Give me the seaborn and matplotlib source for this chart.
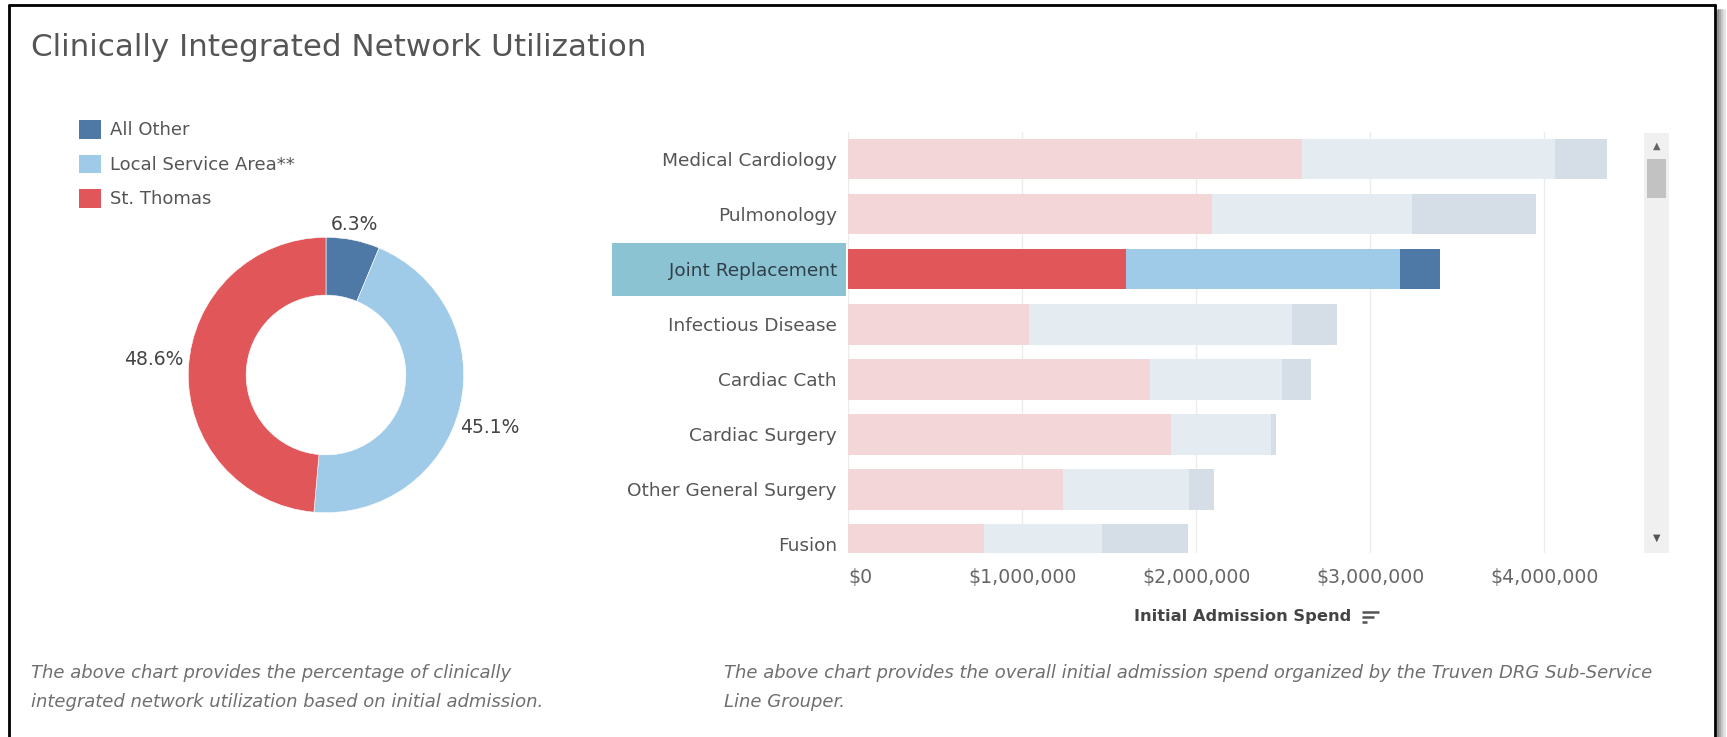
import matplotlib
matplotlib.use("Agg")
import matplotlib.pyplot as plt
import seaborn as sns
import pandas as pd
from matplotlib.patches import Rectangle, Patch
from matplotlib.lines import Line2D
from matplotlib.transforms import blended_transform_factory

# ---------------- data ----------------
categories = ["Medical Cardiology", "Pulmonology", "Joint Replacement",
              "Infectious Disease", "Cardiac Cath", "Cardiac Surgery",
              "Other General Surgery", "Fusion"]
st_thomas = [2610000, 2090000, 1595000, 1040000, 1735000, 1855000, 1235000, 780000]
local_service = [1450000, 1150000, 1575000, 1510000, 755000, 575000, 725000, 680000]
all_other = [300000, 710000, 230000, 260000, 170000, 30000, 140000, 490000]
highlight = "Joint Replacement"

donut_labels = ["All Other", "Local Service Area**", "St. Thomas"]
donut_values = [6.3, 45.1, 48.6]

x_ticks = [0, 1000000, 2000000, 3000000, 4000000]
x_tick_labels = ["$0", "$1,000,000", "$2,000,000", "$3,000,000", "$4,000,000"]

full_colors = {"All Other": "#4e79a7", "Local Service Area**": "#a0cbe8", "St. Thomas": "#e15759"}
faded_colors = {"All Other": "#d5dde6", "Local Service Area**": "#e4ebf1", "St. Thomas": "#f2d6d8"}

W, H = 1727, 737
def fx(p):
    return p / W
def fy(p):
    return 1 - p / H

sns.set_theme(style="white")
plt.rcParams["font.family"] = ["DejaVu Sans"]

fig = plt.figure(figsize=(W / 100, H / 100), dpi=100)
fig.patch.set_facecolor("white")

# ---------------- title ----------------
fig.text(fx(31), fy(48), "Clinically Integrated Network Utilization", fontsize=22.3,
         color="#555555", ha="left", va="center")

# ---------------- donut ----------------
cx, cy, R = 326, 375, 137.7
half = 1.25 * R
ax_pie = fig.add_axes([fx(cx - half), fy(cy + half), 2 * half / W, 2 * half / H])
wedges, texts, autotexts = ax_pie.pie(
    donut_values, colors=[full_colors[l] for l in donut_labels], startangle=90,
    counterclock=False, wedgeprops=dict(width=0.42, edgecolor="white", linewidth=0.4),
    autopct=lambda p: f"{p:.1f}%", pctdistance=1.2,
    textprops=dict(fontsize=13.5, color="#444444"))
ax_pie.set_aspect("equal")
ax_pie.set_xlim(-1.25, 1.25)
ax_pie.set_ylim(-1.25, 1.25)
# Tableau-style outside label placement (layout only)
label_pos = [(0.21, 1.09), (1.19, -0.38), (-1.25, 0.11)]
for t, p in zip(autotexts, label_pos):
    t.set_position(p)
    t.set_clip_on(False)

handles = [Patch(facecolor=full_colors[l], edgecolor="none") for l in donut_labels]
fig.legend(handles, donut_labels, loc="upper left", bbox_to_anchor=(fx(79), fy(120)),
           frameon=False, fontsize=13, handlelength=1.2, handleheight=1.2,
           handletextpad=0.5, labelspacing=0.84, borderpad=0, borderaxespad=0,
           labelcolor="#555555")

# ---------------- bars ----------------
ax = fig.add_axes([fx(848), fy(553), (1635 - 848) / W, (553 - 132) / H])
df = pd.DataFrame({"category": categories, "st": st_thomas,
                   "lsa": local_service, "other": all_other})
df["cum_lsa"] = df["st"] + df["lsa"]
df["total"] = df["cum_lsa"] + df["other"]

for col, series in [("total", "All Other"), ("cum_lsa", "Local Service Area**"), ("st", "St. Thomas")]:
    pal = {c: (full_colors[series] if c == highlight else faded_colors[series]) for c in categories}
    sns.barplot(data=df, x=col, y="category", hue="category", palette=pal, dodge=False,
                legend=False, width=0.74, orient="h", saturation=1, ax=ax,
                linewidth=0, edgecolor="none", order=categories)

ax.set_xlim(0, 4520000)
ax.set_ylim(7.155, -0.49)
ax.set_xticks(x_ticks)
ax.set_xticklabels(x_tick_labels)
ax.grid(axis="x", color="#ececec", linewidth=1)
ax.set_axisbelow(True)
for s in ax.spines.values():
    s.set_visible(False)
ax.set_xlabel("")
ax.set_ylabel("")
ax.tick_params(axis="y", length=0, pad=8, labelsize=13.3, labelcolor="#555555")
ax.tick_params(axis="x", length=0, pad=11, labelsize=13.6, labelcolor="#666666")
ax.get_xticklabels()[0].set_horizontalalignment("left")

# highlighted row label background
tr = blended_transform_factory(ax.transAxes, ax.transData)
hi = categories.index(highlight)
ax.add_patch(Rectangle((-0.2999, hi - 0.48), 0.2974, 0.96, transform=tr,
                       facecolor="#8cc3d3", edgecolor="none", clip_on=False, zorder=0))
for lab in ax.get_yticklabels():
    if lab.get_text() == highlight:
        lab.set_color("#2f3f48")

# axis title + sort icon
fig.text(fx(1243), fy(617), "Initial Admission Spend", fontsize=11.7, fontweight="bold",
         color="#444444", ha="center", va="center")
for i, (x0, x1) in enumerate([(1362, 1379), (1362, 1374), (1362, 1367)]):
    yy = 612 + i * 5
    fig.add_artist(Line2D([fx(x0), fx(x1)], [fy(yy), fy(yy)], color="#555555", lw=1.8,
                          solid_capstyle="butt"))

# scrollbar
sb = fig.add_axes([fx(1644), fy(553), (1669 - 1644) / W, (553 - 133) / H])
sb.set_xlim(0, 1)
sb.set_ylim(553, 133)
sb.set_facecolor("#f0f0f0")
for s in sb.spines.values():
    s.set_visible(False)
sb.set_xticks([])
sb.set_yticks([])
sb.add_patch(Rectangle((0.12, 159), 0.76, 39, facecolor="#c2c2c2", edgecolor="none"))
sb.text(0.5, 146, "▲", ha="center", va="center", fontsize=7, color="#666666")
sb.text(0.5, 538, "▼", ha="center", va="center", fontsize=7, color="#555555")

# ---------------- footnotes ----------------
fn = dict(fontsize=13.0, style="italic", color="#6f6f6f", ha="left", va="center")
fig.text(fx(31), fy(673), "The above chart provides the percentage of clinically", **fn)
fig.text(fx(31), fy(702), "integrated network utilization based on initial admission.", **fn)
fig.text(fx(724), fy(673),
         "The above chart provides the overall initial admission spend organized by the Truven DRG Sub-Service",
         **fn)
fig.text(fx(724), fy(702), "Line Grouper.", **fn)

# ---------------- frame ----------------
for (xa, ya, xb, yb) in [(9, 5, 1715, 5), (9, 5, 9, 737), (1715, 5, 1715, 737)]:
    fig.add_artist(Line2D([fx(xa), fx(xb)], [fy(ya), fy(yb)], color="black", lw=2))
for k, c in enumerate(["#888888", "#aaaaaa", "#c8c8c8", "#e2e2e2"]):
    fig.add_artist(Line2D([fx(1718 + 2 * k), fx(1718 + 2 * k)], [fy(10), fy(737)], color=c, lw=2))

fig.savefig("out.png", dpi=100, facecolor="white")
